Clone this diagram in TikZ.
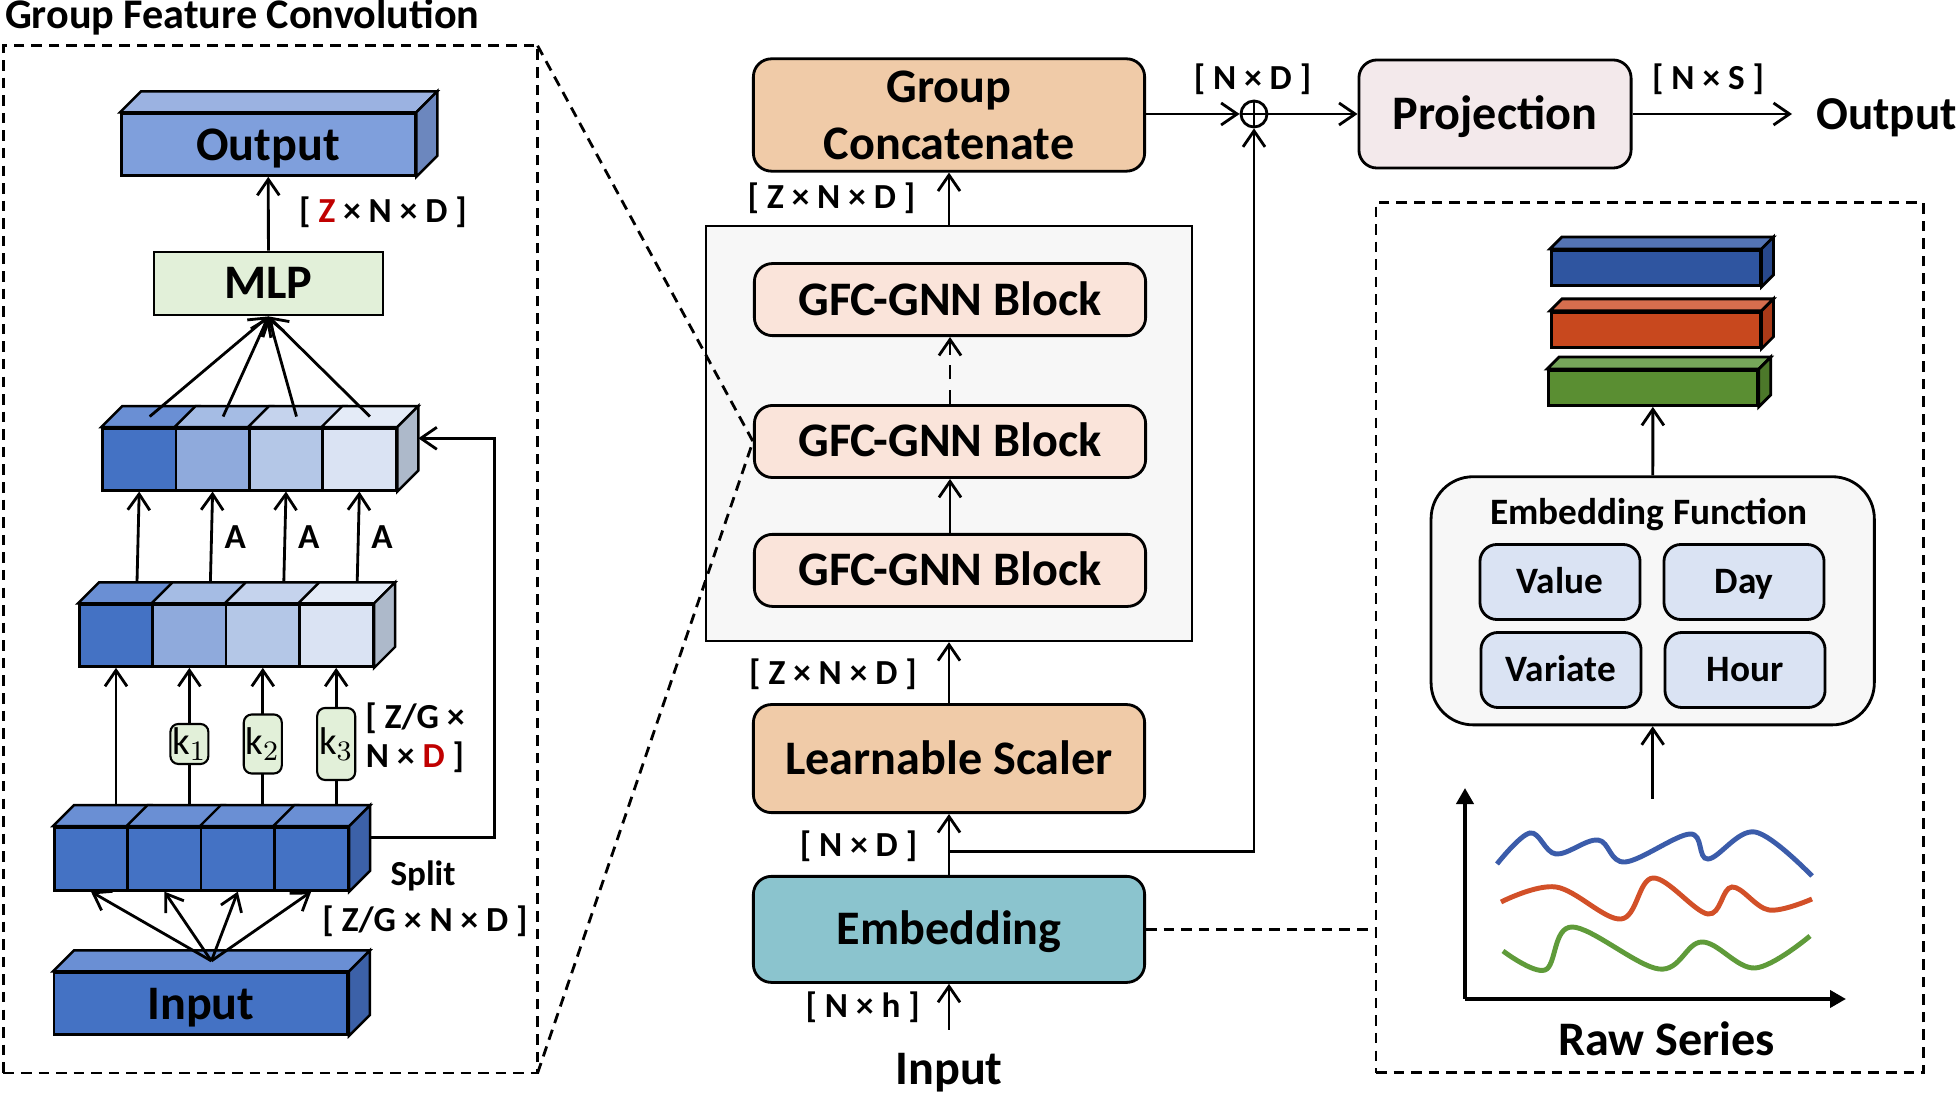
\documentclass[tikz,border=0pt]{standalone}
\usepackage{xcolor}
\usepackage{fontspec}
\setmainfont{Carlito}
\usetikzlibrary{arrows.meta}
\definecolor{peach}{RGB}{240,203,168}
\definecolor{gfcpink}{RGB}{250,228,218}
\definecolor{embteal}{RGB}{139,196,206}
\definecolor{projpink}{RGB}{243,233,235}
\definecolor{panel}{RGB}{247,247,247}
\definecolor{mlpgreen}{RGB}{226,240,217}
\definecolor{fnblue}{RGB}{218,227,243}
\definecolor{dred}{RGB}{192,0,0}
\definecolor{cA}{RGB}{68,114,196}
\definecolor{cB}{RGB}{143,170,220}
\definecolor{cC}{RGB}{180,199,231}
\definecolor{cD}{RGB}{218,227,243}
\definecolor{tA}{RGB}{106,143,212}
\definecolor{tB}{RGB}{165,188,228}
\definecolor{tC}{RGB}{197,211,237}
\definecolor{tD}{RGB}{228,235,247}
\definecolor{sGray}{RGB}{173,185,202}
\definecolor{sBlue}{RGB}{60,97,168}
\definecolor{oFront}{RGB}{127,159,220}
\definecolor{oTop}{RGB}{155,178,225}
\definecolor{oSide}{RGB}{108,135,190}
\definecolor{barB}{RGB}{47,85,160}
\definecolor{barBt}{RGB}{84,116,180}
\definecolor{barBs}{RGB}{40,72,140}
\definecolor{barO}{RGB}{200,72,30}
\definecolor{barOt}{RGB}{214,110,78}
\definecolor{barOs}{RGB}{170,58,24}
\definecolor{barG}{RGB}{90,142,50}
\definecolor{barGt}{RGB}{118,166,90}
\definecolor{barGs}{RGB}{76,120,42}
\definecolor{cblue}{RGB}{59,92,170}
\definecolor{corange}{RGB}{210,80,40}
\definecolor{cgreen}{RGB}{95,155,58}

\begin{document}
\begin{tikzpicture}[x=0.01cm, y=-0.01cm, line width=0.8pt,
  >={Straight Barb[length=1.6mm,width=2.2mm]},
  big/.style={font=\bfseries\fontsize{13.7}{16.2}\selectfont},
  dim/.style={font=\bfseries\fontsize{10}{11.2}\selectfont},
  small/.style={font=\bfseries\fontsize{10.6}{12}\selectfont},
  capc/.style={text height=8.8pt, text depth=0pt},
  blk/.style={draw, rounded corners=0.18cm, minimum width=3.91cm, big},
  cell/.style={draw, line width=0.7pt, minimum width=0.734cm, minimum height=0.62cm, inner sep=0pt},
  kbox/.style={draw, fill=mlpgreen, line width=0.6pt, rounded corners=0.08cm, minimum width=0.38cm, inner sep=0pt, font=\fontsize{11}{11}\selectfont},
  dbox/.style={draw, dash pattern=on 3pt off 2pt, inner sep=0pt, outer sep=0pt},
  dline/.style={dash pattern=on 3pt off 2pt}]
\useasboundingbox (0,0) rectangle (1957,1095);

\node[anchor=base west, inner sep=0pt, font=\bfseries\fontsize{12}{14}\selectfont] (title) at (3.6,28.6) {Group Feature Convolution};
\node[dbox, minimum width=5.339cm, minimum height=10.267cm] (lbox) at (270.5,559.4) {};

\node[cell, fill=oFront, minimum width=2.936cm, big, capc] (ocube) at (268.2,144.6) {Output};
\draw[fill=oTop, line width=0.7pt] (ocube.north west) -- ++(21,-21) -- ([shift={(21,-21)}]ocube.north east) -- (ocube.north east) -- cycle;
\draw[fill=oSide, line width=0.7pt] (ocube.north east) -- ++(21,-21) -- ([shift={(21,-21)}]ocube.south east) -- (ocube.south east) -- cycle;
\node[draw, fill=mlpgreen, minimum width=2.29cm, minimum height=0.63cm, big, capc] (mlp) at (268.5,283.5) {MLP};
\draw[->] (mlp) -- (ocube);
\node[dim] (zdim) at (383,212.5) {[ \textcolor{dred}{Z} × N × D ]};

\foreach \i/\fc/\tc in {1/cA/tA,2/cB/tB,3/cC/tC,4/cD/tD} {
  \node[cell, fill=\fc] (t\i) at ({102.5+73.4*(\i-0.5)},459.3) {};
  \draw[fill=\tc, line width=0.7pt] (t\i.north west) -- ++(21,-21) -- ([shift={(21,-21)}]t\i.north east) -- (t\i.north east) -- cycle;
  \node[cell, fill=\fc] (m\i) at ({79.3+73.4*(\i-0.5)},635.6) {};
  \draw[fill=\tc, line width=0.7pt] (m\i.north west) -- ++(21,-21) -- ([shift={(21,-21)}]m\i.north east) -- (m\i.north east) -- cycle;
  \node[cell, fill=cA, minimum height=0.63cm] (s\i) at ({54.3+73.4*(\i-0.5)},858.9) {};
  \draw[fill=tA, line width=0.7pt] (s\i.north west) -- ++(21,-21) -- ([shift={(21,-21)}]s\i.north east) -- (s\i.north east) -- cycle;
  \coordinate (sb\i) at ([shift={(21,-21)}]s\i.north);
  \draw[->] ([shift={(10.5,-10.5)}]t\i.north) -- (mlp.south);
  \draw[->] ([shift={(21,-21)}]m\i.north) -- (t\i.south);
  \draw[->] (m\i.south |- sb\i) -- (m\i.south);
}
\draw[fill=sGray, line width=0.7pt] (t4.north east) -- ++(21,-21) -- ([shift={(21,-21)}]t4.south east) -- (t4.south east) -- cycle;
\draw[fill=sGray, line width=0.7pt] (m4.north east) -- ++(21,-21) -- ([shift={(21,-21)}]m4.south east) -- (m4.south east) -- cycle;
\draw[fill=sBlue, line width=0.7pt] (s4.north east) -- ++(21,-21) -- ([shift={(21,-21)}]s4.south east) -- (s4.south east) -- cycle;

\foreach \i/\j/\h in {2/1/0.40,3/2/0.59,4/3/0.72} {
  \node[kbox, minimum height=\h cm] (k\j) at (m\i.south |- 0,744) {$\mathrm{k}_\j$};
  \path ([shift={(21,-21)}]m\i.north) -- (t\i.south) node[midway, right, dim] (a\i) {A};
}
\draw[->] ([shift={(21,-21)}]s4.east) -- ++(124,0) |- ([shift={(21,-21)}]t4.east);
\node[dim, align=center] (kdim) at (415,738) {[ Z/G ×\\N × \textcolor{dred}{D} ]};
\node[dim] (split) at (423,875.6) {Split};
\node[dim] (sdim) at (425,921.6) {[ Z/G × N × D ]};

\node[cell, fill=cA, minimum width=2.932cm, big, capc] (inp) at (200.9,1003.7) {Input};
\draw[fill=tA, line width=0.7pt] (inp.north west) -- ++(21,-21) -- ([shift={(21,-21)}]inp.north east) -- (inp.north east) -- cycle;
\draw[fill=sBlue, line width=0.7pt] (inp.north east) -- ++(21,-21) -- ([shift={(21,-21)}]inp.south east) -- (inp.south east) -- cycle;
\coordinate (fan) at ([shift={(10.5,-10.5)}]inp.north);
\foreach \i in {1,...,4}
  \draw[->] (fan) -- (s\i.south);

\node[draw, fill=panel, line width=0.6pt, minimum width=4.86cm, minimum height=4.15cm] (gfc) at (949,433.5) {};
\node[blk, fill=peach, minimum height=1.08cm, align=center] (concat) at (949,115) {Group\\Concatenate};
\node[blk, fill=gfcpink, minimum height=0.72cm, capc] (g1) at (950,299.6) {GFC-GNN Block};
\node[blk, fill=gfcpink, minimum height=0.72cm, capc] (g2) at (950,441.5) {GFC-GNN Block};
\node[blk, fill=gfcpink, minimum height=0.72cm, capc] (g3) at (950,570.4) {GFC-GNN Block};
\node[blk, fill=peach, minimum height=1.08cm, capc] (scaler) at (949,758.6) {Learnable Scaler};
\node[blk, fill=embteal, minimum height=1.06cm, capc] (emb) at (949,929.4) {Embedding};
\node[big, anchor=base] (input) at (949,1085) {Input};
\node[draw, circle, minimum size=0.26cm, inner sep=0pt] (plus) at (1254,114) {};
\draw (plus.north) -- (plus.south) (plus.west) -- (plus.east);
\node[blk, fill=projpink, minimum width=2.72cm, minimum height=1.08cm, capc] (proj) at (1495,114) {Projection};
\node[anchor=base west, inner sep=0pt, font=\bfseries\fontsize{13.4}{16}\selectfont] (output) at (1815,130) {Output};
\coordinate (inend) at (949,1030);
\coordinate (br) at (949,851.5);
\coordinate (outend) at (1792,114);

\node[dim] (d1) at (1252.5,79.3) {[ N × D ]};
\node[dim] (d2) at (1708,79.3) {[ N × S ]};
\node[dim] (d3) at (831.5,198) {[ Z × N × D ]};
\node[dim] (d4) at (833,673.8) {[ Z × N × D ]};
\node[dim] (d5) at (858.5,846.2) {[ N × D ]};
\node[dim] (d6) at (862.7,1007.3) {[ N × h ]};

\draw[->] (inend) -- (emb);
\draw[->] (emb) -- (scaler);
\draw[->] (br) -| (plus);
\draw[->] (scaler) -- (gfc);
\draw[->] (g3) -- (g2);
\draw[->, dash pattern=on 4pt off 3pt] (g2) -- (g1);
\draw[->] (gfc) -- (concat);
\draw[->] (concat.east |- plus) -- (plus);
\draw[->] (plus) -- (proj);
\draw[->] (proj) -- (outend);
\draw[dline] (lbox.north east) -- (g2.west) (lbox.south east) -- (g2.west);

\node[dbox, minimum width=5.47cm, minimum height=8.70cm] (rbox) at (1649.7,637.6) {};
\draw[dline] (emb.east) -- (emb.east -| rbox.west);
\node[draw, fill=panel, rounded corners=0.42cm, minimum width=4.43cm, minimum height=2.48cm] (ef) at (1652.7,600.8) {};
\node[small] (eftitle) at (1649,514.3) {Embedding Function};
\foreach \nm/\lb/\px/\py in {val/Value/1560/582,day/Day/1744/582,var/Variate/1561/670,hour/Hour/1745/670}
  \node[draw, fill=fnblue, rounded corners=0.17cm, minimum width=1.6cm, minimum height=0.75cm, small, text height=6.8pt, text depth=0pt] (\nm) at (\px,\py) {\lb};

\foreach \nm/\fc/\tc/\sc/\px/\py in {bb/barB/barBt/barBs/1655.7/267.9,ob/barO/barOt/barOs/1655.7/329.8,gb/barG/barGt/barGs/1652.9/388} {
  \node[draw, fill=\fc, minimum width=2.087cm, minimum height=0.35cm, inner sep=0pt] (\nm) at (\px,\py) {};
  \draw[fill=\tc] (\nm.north west) -- ++(12,-12) -- ([shift={(12,-12)}]\nm.north east) -- (\nm.north east) -- cycle;
  \draw[fill=\sc] (\nm.north east) -- ++(12,-12) -- ([shift={(12,-12)}]\nm.south east) -- (\nm.south east) -- cycle;
}
\draw[->] (ef) -- (gb);
\coordinate (rs) at (1652.7,799);
\draw[->] (rs) -- (ef);
\coordinate (o) at (1465,999);
\draw[line width=1.1pt, -{Triangle[length=1.6mm,width=1.7mm]}] (o) -- (1465,788);
\draw[line width=1.1pt, -{Triangle[length=1.6mm,width=1.7mm]}] (o) -- (1846,999);
\draw[cblue, line width=1.4pt] plot[smooth, tension=0.6] coordinates {(1497,864) (1530,833) (1556,854) (1598,840) (1625,862) (1690,834) (1708,859) (1755,832) (1812,876)};
\draw[corange, line width=1.4pt] plot[smooth, tension=0.6] coordinates {(1501,902) (1556,887) (1621,919) (1653,878) (1708,914) (1732,887) (1769,910) (1812,899)};
\draw[cgreen, line width=1.4pt] plot[smooth, tension=0.6] coordinates {(1503,951) (1545,970) (1572,927) (1659,969) (1702,942) (1755,968) (1810,936)};
\node[big] (raw) at (1666.6,1039) {Raw Series};
\end{tikzpicture}
\end{document}
